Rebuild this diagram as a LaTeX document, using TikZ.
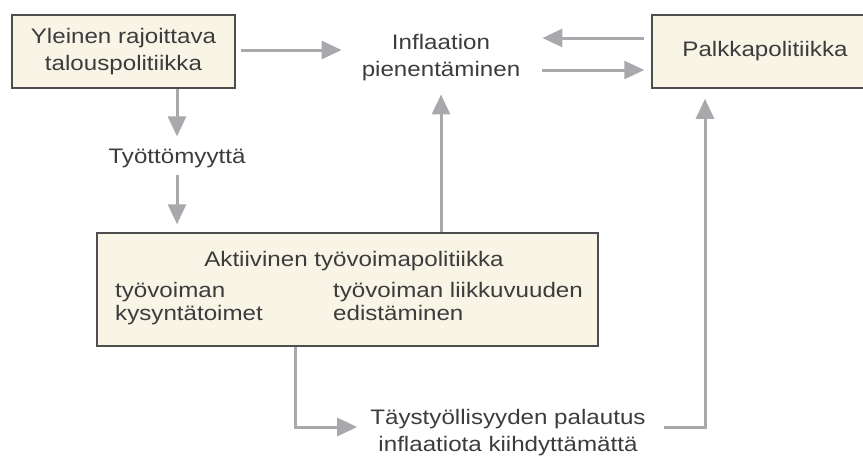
\documentclass[tikz,border=0pt]{standalone}
\usepackage{fontspec}
\setmainfont{Liberation Sans}[FakeStretch=1.15]
\usetikzlibrary{arrows.meta}
\definecolor{boxfill}{HTML}{F8F4E6}
\definecolor{boxline}{HTML}{4E4E4E}
\definecolor{arrgray}{HTML}{A9A9AD}
\definecolor{txt}{HTML}{3C3C3C}
\begin{document}
\begin{tikzpicture}[x=1pt,y=-1pt,
  box/.style={draw=boxline,line width=1.5pt,fill=boxfill,align=center,inner sep=0pt},
  lbl/.style={align=center,inner sep=0pt},
  arr/.style={draw=arrgray,line width=3pt,-{Triangle[length=20pt,width=18pt]}},
  every node/.style={text=txt,font=\fontsize{21}{27}\selectfont}]
  \useasboundingbox (0,0) rectangle (863,459);
  \node[box,minimum width=223pt,minimum height=73pt] (yleinen) at (123.5,51.5) {Yleinen rajoittava\\talouspolitiikka};
  \node[box,minimum width=226pt,minimum height=73pt] (palkka) at (765,51.5) {Palkkapolitiikka};
  \node[lbl] (inflaatio) at (441,58) {Inflaation\\pienentäminen};
  \node[lbl] (tyottomyys) at (177,158) {Työttömyyttä};
  \node[box,minimum width=501pt,minimum height=113pt] (aktiivinen) at (347.5,289.5) {};
  \node[lbl] (aktotsikko) at (354,261) {Aktiivinen työvoimapolitiikka};
  \node[lbl,anchor=north west,align=left,font=\fontsize{21}{23}\selectfont] (kysynta) at (115,282) {työvoiman\\kysyntätoimet};
  \node[lbl,anchor=north west,align=left,font=\fontsize{21}{23}\selectfont] (liikkuvuus) at (333,282) {työvoiman liikkuvuuden\\edistäminen};
  \node[lbl] (taysty) at (508,433) {Täystyöllisyyden palautus\\inflaatiota kiihdyttämättä};
  \coordinate (kulma1) at (295,427);
  \coordinate (kulma2) at (705,427);

  \draw[arr,shorten <=5pt,shorten >=20pt] ([yshift=1.5pt]yleinen.east) -- ([yshift=1.5pt]yleinen.east -| inflaatio.west);
  \draw[arr,shorten <=7pt,shorten >=22pt] ([yshift=13.5pt]palkka.west) -- ([yshift=13.5pt]palkka.west -| inflaatio.east);
  \draw[arr,shorten <=22pt,shorten >=7pt] ([yshift=-18.5pt]palkka.west -| inflaatio.east) -- ([yshift=-18.5pt]palkka.west);
  \draw[arr,shorten >=12pt] (tyottomyys |- yleinen.south) -- (tyottomyys.north);
  \draw[arr,shorten <=7pt,shorten >=8pt] (tyottomyys.south) -- (tyottomyys |- aktiivinen.north);
  \draw[arr,shorten >=13pt] (aktiivinen.north -| inflaatio) -- (inflaatio.south);
  \draw[arr,shorten >=13pt] (aktiivinen.south -| kulma1) -- (kulma1) -- (kulma1 -| taysty.west);
  \draw[arr,shorten <=18pt,shorten >=10pt] (kulma2 -| taysty.east) -- (kulma2) -- (kulma2 |- palkka.south);
\end{tikzpicture}
\end{document}
